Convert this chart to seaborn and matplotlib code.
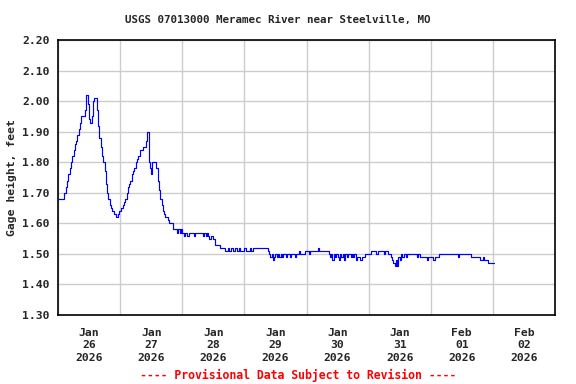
import numpy as np
import pandas as pd
import matplotlib
matplotlib.use("Agg")
import matplotlib.pyplot as plt
import matplotlib.dates as mdates
import seaborn as sns

# Gage height (ft), half-hourly readings starting 2026-01-26 00:00
day_jan26 = [1.68, 1.68, 1.68, 1.68, 1.68, 1.70, 1.72, 1.74, 1.76, 1.78, 1.80, 1.82,
             1.84, 1.86, 1.87, 1.89, 1.91, 1.93, 1.95, 1.95, 1.95, 1.97, 2.02, 1.99,
             1.94, 1.93, 1.95, 2.00, 2.01, 2.01, 1.97, 1.92, 1.88, 1.85, 1.82, 1.80,
             1.77, 1.73, 1.70, 1.68, 1.66, 1.65, 1.64, 1.63, 1.63, 1.62, 1.63, 1.64]
day_jan27 = [1.64, 1.65, 1.66, 1.67, 1.68, 1.70, 1.72, 1.73, 1.74, 1.76, 1.77, 1.78,
             1.80, 1.81, 1.82, 1.84, 1.84, 1.84, 1.85, 1.85, 1.87, 1.90, 1.80, 1.78,
             1.76, 1.80, 1.80, 1.80, 1.78, 1.74, 1.71, 1.68, 1.66, 1.64, 1.63, 1.62,
             1.62, 1.61, 1.60, 1.60, 1.60, 1.58, 1.58, 1.58, 1.57, 1.58, 1.57, 1.58]
day_jan28 = [1.57, 1.56, 1.57, 1.57, 1.56, 1.57, 1.57, 1.57, 1.57, 1.56, 1.57, 1.57,
             1.57, 1.57, 1.57, 1.57, 1.56, 1.57, 1.56, 1.57, 1.56, 1.55, 1.56, 1.56,
             1.55, 1.53, 1.53, 1.53, 1.53, 1.52, 1.52, 1.52, 1.52, 1.51, 1.51, 1.52,
             1.51, 1.51, 1.52, 1.51, 1.51, 1.52, 1.51, 1.51, 1.52, 1.51, 1.51, 1.51]
day_jan29 = [1.52, 1.51, 1.51, 1.51, 1.52, 1.51, 1.51, 1.52, 1.52, 1.52, 1.52, 1.52,
             1.52, 1.52, 1.52, 1.52, 1.52, 1.52, 1.51, 1.50, 1.49, 1.50, 1.48, 1.49,
             1.50, 1.49, 1.50, 1.49, 1.50, 1.49, 1.50, 1.50, 1.49, 1.50, 1.50, 1.49,
             1.50, 1.50, 1.50, 1.49, 1.50, 1.50, 1.51, 1.50, 1.50, 1.50, 1.50, 1.51]
day_jan30 = [1.51, 1.51, 1.50, 1.51, 1.51, 1.51, 1.51, 1.51, 1.51, 1.52, 1.51, 1.51,
             1.51, 1.51, 1.51, 1.51, 1.51, 1.50, 1.49, 1.50, 1.48, 1.50, 1.49, 1.50,
             1.49, 1.48, 1.50, 1.49, 1.50, 1.48, 1.50, 1.49, 1.50, 1.50, 1.49, 1.50,
             1.49, 1.50, 1.48, 1.49, 1.49, 1.48, 1.48, 1.49, 1.49, 1.50, 1.50, 1.50]
day_jan31 = [1.50, 1.50, 1.51, 1.51, 1.51, 1.51, 1.50, 1.51, 1.51, 1.51, 1.51, 1.51,
             1.50, 1.51, 1.51, 1.50, 1.50, 1.49, 1.48, 1.47, 1.46, 1.48, 1.46, 1.49,
             1.48, 1.50, 1.49, 1.50, 1.50, 1.49, 1.50, 1.50, 1.50, 1.50, 1.50, 1.50,
             1.50, 1.49, 1.50, 1.50, 1.49, 1.49, 1.49, 1.49, 1.49, 1.48, 1.49, 1.49]
day_feb01 = [1.49, 1.49, 1.48, 1.49, 1.49, 1.49, 1.50, 1.50, 1.50, 1.50, 1.50, 1.50,
             1.50, 1.50, 1.50, 1.50, 1.50, 1.50, 1.50, 1.50, 1.50, 1.49, 1.50, 1.50,
             1.50, 1.50, 1.50, 1.50, 1.50, 1.50, 1.50, 1.49, 1.49, 1.49, 1.49, 1.49,
             1.49, 1.49, 1.48, 1.48, 1.49, 1.48, 1.48, 1.48, 1.47, 1.47, 1.47, 1.47]
day_feb02 = [1.47, 1.47]

values = day_jan26 + day_jan27 + day_jan28 + day_jan29 + day_jan30 + day_jan31 + day_feb01 + day_feb02
times = pd.date_range("2026-01-26 00:00", periods=len(values), freq="30min")
df = pd.DataFrame({"time": times, "gage": values})

yticks = [1.30, 1.40, 1.50, 1.60, 1.70, 1.80, 1.90, 2.00, 2.10, 2.20]
title = "USGS 07013000 Meramec River near Steelville, MO"
ylabel = "Gage height, feet"
footer = "---- Provisional Data Subject to Revision ----"

sns.set_theme(style="white")
plt.rcParams["font.family"] = ["DejaVu Sans Mono"]
plt.rcParams["font.weight"] = "bold"

fig = plt.figure(figsize=(5.76, 3.84), dpi=100)
ax = fig.add_axes([58/576, 1 - 315/384, (555 - 58)/576, (315 - 40)/384])

sns.lineplot(data=df, x="time", y="gage", ax=ax, color="#0000ff", linewidth=0.85,
             drawstyle="steps-post", zorder=3)

ax.set_xlim(pd.Timestamp("2026-01-26 00:00"), pd.Timestamp("2026-02-03 00:00"))
ax.set_ylim(1.30, 2.20)
ax.set_yticks(yticks)
ax.set_yticklabels([f"{v:.2f}" for v in yticks], fontsize=8.2, fontweight="bold")

ax.xaxis.set_major_locator(mdates.HourLocator(byhour=[12]))
ax.xaxis.set_major_formatter(mdates.DateFormatter("%b\n%d\n%Y"))
ax.xaxis.set_minor_locator(mdates.DayLocator())
ax.tick_params(axis="x", which="both", length=0, pad=9, labelsize=8.2)
ax.tick_params(axis="y", which="both", length=0, pad=6, labelsize=8.2)
plt.setp(ax.get_xticklabels(), fontweight="bold", linespacing=1.33)

ax.grid(False)
ax.grid(True, axis="x", which="minor", color="#cccccc", linewidth=1.0)
ax.grid(True, axis="y", which="major", color="#cccccc", linewidth=1.0)
ax.set_axisbelow(True)
for s in ax.spines.values():
    s.set_color("black")
    s.set_linewidth(1.2)

ax.set_xlabel("")
ax.set_ylabel(ylabel, fontsize=8.2, fontweight="bold", labelpad=4)

fig.text(278/576, 1 - 20/384, title, fontsize=7.8, fontweight="bold",
         ha="center", va="center")
fig.text(298/576, 1 - 375/384, footer, color="#ff0000", fontsize=8.3,
         fontweight="bold", ha="center", va="center")

fig.savefig("out.png", dpi=100)
